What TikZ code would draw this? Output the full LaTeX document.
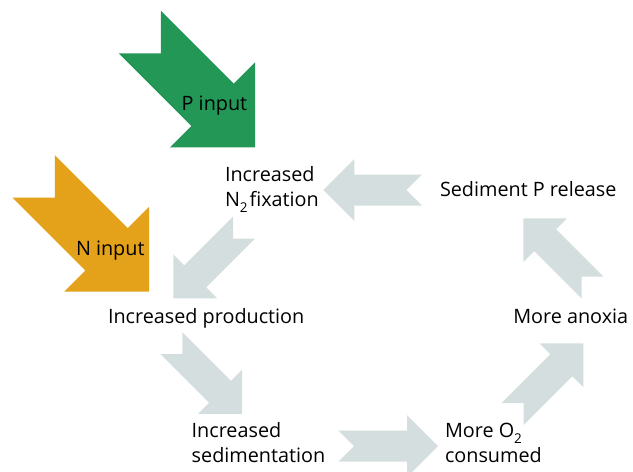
\documentclass[tikz,border=0pt]{standalone}
\usepackage{fontspec}
\setmainfont{Open Sans}
\definecolor{pgreen}{RGB}{35,152,86}
\definecolor{norange}{RGB}{227,162,26}
\definecolor{cyclegray}{RGB}{212,222,223}
\newcommand{\twolines}[2]{\begin{tabular}[t]{@{}l@{}}#1\\#2\end{tabular}}
\newcommand{\lowtwo}{\raisebox{-0.3em}{\fontsize{13.5}{14}\selectfont 2}}
\tikzset{
  pics/blockarrow/.style n args={4}{code={
    \fill[#4] (0,0) -- (-#3,#3) -- (-#3,#2) -- (-#1,#2) -- ({-#1+#2},0)
      -- (-#1,-#2) -- (-#3,-#2) -- (-#3,-#3) -- cycle;
  }},
  lbl/.style={anchor=base west, inner sep=0pt, outer sep=0pt,
    font=\fontsize{19.8}{25}\selectfont, text=black},
}
\begin{document}
\begin{tikzpicture}[x=1pt, y=-1pt]
\useasboundingbox (0,0) rectangle (633,472);
\clip (0,0) rectangle (633,472);
% input arrows
\pic[rotate=-45] at (255,147.3) {blockarrow={163}{30}{60}{pgreen}};
\pic[rotate=-45] at (149,291.7) {blockarrow={163}{30}{60}{norange}};
% cycle arrows
\pic[rotate=180] at (323.3,190) {blockarrow={98.5}{15.5}{31}{cyclegray}};
\pic[rotate=-135] at (173.3,298.3) {blockarrow={100}{15.5}{31}{cyclegray}};
\pic[rotate=-45] at (242,413.8) {blockarrow={100}{15.5}{31}{cyclegray}};
\pic[rotate=0] at (438,446) {blockarrow={99.5}{15.5}{31}{cyclegray}};
\pic[rotate=45] at (583.3,343.3) {blockarrow={100}{15.5}{31}{cyclegray}};
\pic[rotate=135] at (523.3,218.3) {blockarrow={98}{15.5}{31}{cyclegray}};
% labels
\node[lbl] (pin) at (181.7,110.7) {P input};
\node[lbl] (nin) at (76,255) {N input};
\node[lbl] (nfix) at (225,181.7) {\twolines{Increased}{N\lowtwo\hspace{0.1em}fixation}};
\node[lbl] (sedp) at (440,196) {Sediment P release};
\node[lbl] (prod) at (108,323.5) {Increased production};
\node[lbl] (anox) at (513.3,323.5) {More anoxia};
\node[lbl] (sedim) at (191.7,437.7) {\twolines{Increased}{sedimentation}};
\node[lbl] (otwo) at (445,437.7) {\twolines{More O\lowtwo}{consumed}};
\end{tikzpicture}
\end{document}
